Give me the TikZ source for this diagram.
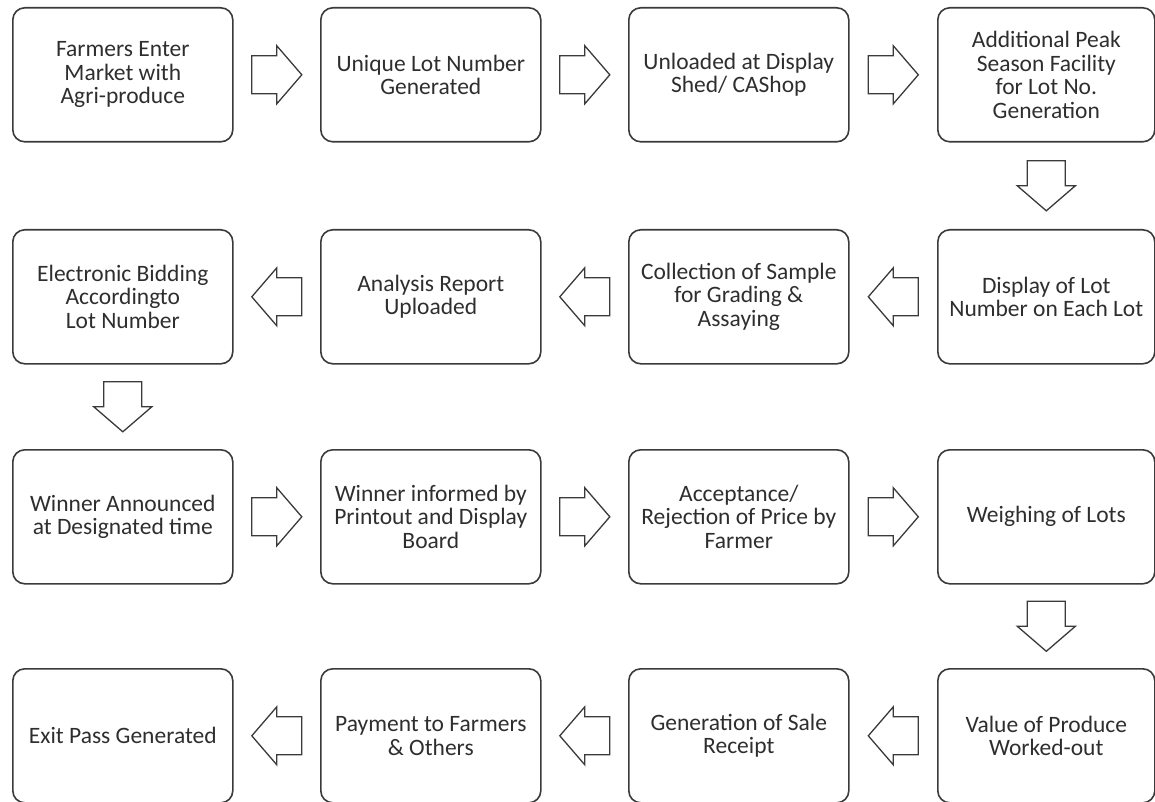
\documentclass[tikz,border=0pt]{standalone}
\usepackage{fontspec}
\setmainfont{Carlito}
\usetikzlibrary{calc}
\definecolor{ln}{HTML}{3A3A3A}
\definecolor{tx}{HTML}{2E2E2E}
\tikzset{
  box/.style={draw=ln, line width=1.6pt, rounded corners=12pt, minimum width=220pt, minimum height=134pt, inner sep=0pt, align=center, text=tx, font=\fontsize{23.5}{23.5}\selectfont, anchor=north west},
  barrow/.style={draw=ln, line width=1.3pt, fill=white, line join=miter}
}
\newcommand\blockarrow[3]{%
  \path ($(#1)!0.5!(#2)$) coordinate (M);
  \draw[barrow, shift={(M)}, rotate=#3] (-25,-19) -- (0,-19) -- (0,-29) -- (25,0) -- (0,29) -- (0,19) -- (-25,19) -- cycle;}
\begin{document}
\begin{tikzpicture}[x=1pt,y=-1pt]
\useasboundingbox (0,0) rectangle (1155,802);
% row 1
\node[box] (b1) at (12,7) {Farmers Enter\\Market with\\Agri-produce};
\node[box] (b2) at (320,7) {Unique Lot Number\\Generated};
\node[box] (b3) at (628,7) {Unloaded at Display\\Shed/ CAShop};
\node[box, minimum width=217pt] (b4) at (937,7) {Additional Peak\\Season Facility\\for Lot No.\\Generation};
% row 2
\node[box, minimum width=217pt] (b5) at (937,229) {Display of Lot\\Number on Each Lot};
\node[box] (b6) at (628,229) {Collection of Sample\\for Grading \&\\Assaying};
\node[box] (b7) at (320,229) {Analysis Report\\Uploaded};
\node[box] (b8) at (12,229) {Electronic Bidding\\Accordingto\\Lot Number};
% row 3
\node[box] (b9) at (12,449) {Winner Announced\\at Designated time};
\node[box] (b10) at (320,449) {Winner informed by\\Printout and Display\\Board};
\node[box] (b11) at (628,449) {Acceptance/\\Rejection of Price by\\Farmer};
\node[box, minimum width=217pt] (b12) at (937,449) {Weighing of Lots};
% row 4
\node[box, minimum width=217pt] (b13) at (937,668) {Value of Produce\\Worked-out};
\node[box] (b14) at (628,668) {Generation of Sale\\Receipt};
\node[box] (b15) at (320,668) {Payment to Farmers\\\& Others};
\node[box] (b16) at (12,668) {Exit Pass Generated};
% arrows
\blockarrow{b1.east}{b2.west}{0}
\blockarrow{b2.east}{b3.west}{0}
\blockarrow{b3.east}{b4.west}{0}
\blockarrow{b4.south}{b5.north}{-90}
\blockarrow{b5.west}{b6.east}{180}
\blockarrow{b6.west}{b7.east}{180}
\blockarrow{b7.west}{b8.east}{180}
\blockarrow{b8.south}{b9.north}{-90}
\blockarrow{b9.east}{b10.west}{0}
\blockarrow{b10.east}{b11.west}{0}
\blockarrow{b11.east}{b12.west}{0}
\blockarrow{b12.south}{b13.north}{-90}
\blockarrow{b13.west}{b14.east}{180}
\blockarrow{b14.west}{b15.east}{180}
\blockarrow{b15.west}{b16.east}{180}
\end{tikzpicture}
\end{document}
